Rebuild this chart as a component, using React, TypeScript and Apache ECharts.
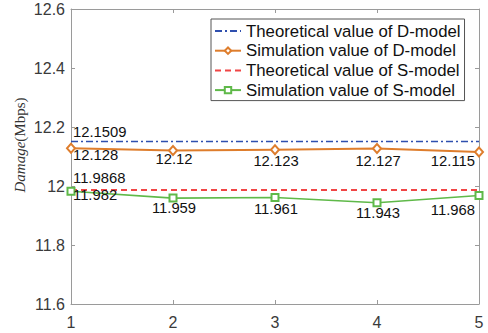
import React, { useEffect, useRef } from "react";
import * as echarts from "echarts";

// x positions
const categories = [1, 2, 3, 4, 5];
// theoretical values (constant over x)
const dTheory = 12.1509;
const sTheory = 11.9868;
// simulated values
const dSim = [12.128, 12.12, 12.123, 12.127, 12.115];
const sSim = [11.982, 11.959, 11.961, 11.943, 11.968];
// axis ticks
const yTicks = [11.6, 11.8, 12, 12.2, 12.4, 12.6];

const names = [
  "Theoretical value of D-model",
  "Simulation value of D-model",
  "Theoretical value of S-model",
  "Simulation value of S-model",
];

// vertical label offsets (pixels) from each simulated point
const dLabelDy = [7, 8.5, 11, 12.5, 8.5];
const sLabelDy = [3.5, 10, 11.5, 10.5, 15];

const FONT = "'Liberation Sans', Arial, sans-serif";
const SERIF = "'Liberation Serif', 'Times New Roman', serif";

const BLUE = "#2f4fae";
const ORANGE = "#de7d2c";
const RED = "#f04545";
const GREEN = "#5fb949";

function labelFor(i: number, dy: number, text?: string) {
  const n = categories.length;
  const align = i === 0 ? "left" : i === n - 1 ? "right" : "center";
  const dx = i === 0 ? 2 : i === n - 1 ? -4 : 1;
  const lbl: any = {
    show: true,
    position: "inside",
    align,
    verticalAlign: "middle",
    offset: [dx, dy],
    fontSize: 14.8,
    lineHeight: 12,
    fontFamily: FONT,
    color: "#111",
  };
  if (text !== undefined) lbl.formatter = () => text;
  return lbl;
}

export default function App() {
  const ref = useRef<HTMLDivElement>(null);

  useEffect(() => {
    if (!ref.current) return;
    const chart = echarts.init(ref.current, undefined, { renderer: "svg" });

    const simData = (vals: number[], dys: number[]) =>
      vals.map((v, i) => ({
        value: [categories[i], v],
        label: labelFor(i, dys[i]),
      }));

    // constant line; only the first point carries the value label
    const theoryData = (v: number, dy: number) =>
      categories.map((c, i) =>
        i === 0
          ? { value: [c, v], label: labelFor(0, dy, String(v)) }
          : { value: [c, v], label: { show: false } }
      );

    const axisGray = "#9a9a9a";
    const tickLabel = {
      fontSize: 16,
      fontFamily: FONT,
      color: "#3a3a3a",
    };
    const hiddenSymbol = { color: "rgba(0,0,0,0)", borderWidth: 0 };

    const boxAxis = {
      axisLine: { show: true, onZero: false, lineStyle: { color: axisGray, width: 1 } },
      axisTick: { show: true, inside: true, length: 4, lineStyle: { color: axisGray } },
      splitLine: { show: false },
    };

    chart.setOption({
      animation: false,
      backgroundColor: "#fff",
      grid: { left: 71, right: 9, top: 9, bottom: 29, containLabel: false },
      legend: {
        orient: "vertical",
        left: 211,
        top: 19,
        padding: [3.5, 4, 2, 3],
        itemWidth: 26,
        itemHeight: 8,
        itemGap: 2.7,
        borderColor: "#555",
        borderWidth: 1,
        backgroundColor: "#fff",
        textStyle: { fontSize: 16.8, fontFamily: FONT, color: "#111", lineHeight: 16.8 },
        data: [
          { name: names[0], itemStyle: { opacity: 0 } },
          { name: names[1] },
          { name: names[2], itemStyle: { opacity: 0 } },
          { name: names[3] },
        ],
      },
      graphic: [
        {
          type: "text",
          x: 20,
          y: 145,
          rotation: Math.PI / 2,
          style: {
            text: "{i|Damage}{n|(Mbps)}",
            align: "center",
            verticalAlign: "middle",
            rich: {
              i: { fontFamily: SERIF, fontStyle: "italic", fontSize: 15, fill: "#333" },
              n: { fontFamily: SERIF, fontSize: 15, fill: "#333" },
            },
          },
        },
      ],
      xAxis: [
        {
          type: "value",
          min: 1,
          max: 5,
          interval: 1,
          ...boxAxis,
          axisLabel: { ...tickLabel, margin: 10 },
        },
        {
          type: "value",
          position: "top",
          min: 1,
          max: 5,
          interval: 1,
          ...boxAxis,
          axisLabel: { show: false },
        },
      ],
      yAxis: [
        {
          type: "value",
          min: yTicks[0],
          max: yTicks[yTicks.length - 1],
          interval: 0.2,
          ...boxAxis,
          axisLabel: {
            ...tickLabel,
            margin: 6,
            formatter: (v: number) => String(parseFloat(v.toFixed(1))),
          },
        },
        {
          type: "value",
          position: "right",
          min: yTicks[0],
          max: yTicks[yTicks.length - 1],
          interval: 0.2,
          ...boxAxis,
          axisLabel: { show: false },
        },
      ],
      series: [
        {
          name: names[0],
          type: "line",
          data: theoryData(dTheory, -9.5),
          symbol: "circle",
          symbolSize: 1,
          showAllSymbol: true,
          itemStyle: hiddenSymbol,
          lineStyle: { color: BLUE, width: 1.6, type: [7, 3, 2, 3] },
          z: 3,
        },
        {
          name: names[1],
          type: "line",
          data: simData(dSim, dLabelDy),
          symbol: "emptyDiamond",
          symbolSize: [8, 9],
          itemStyle: { color: ORANGE, borderWidth: 1.5 },
          lineStyle: { color: ORANGE, width: 2 },
          z: 4,
        },
        {
          name: names[2],
          type: "line",
          data: theoryData(sTheory, -11.5),
          symbol: "circle",
          symbolSize: 1,
          showAllSymbol: true,
          itemStyle: hiddenSymbol,
          lineStyle: { color: RED, width: 2, type: [6, 4] },
          z: 3,
        },
        {
          name: names[3],
          type: "line",
          data: simData(sSim, sLabelDy),
          symbol: "emptyRect",
          symbolSize: 7,
          itemStyle: { color: GREEN, borderWidth: 1.3 },
          lineStyle: { color: GREEN, width: 1.6 },
          z: 4,
        },
      ],
    });

    return () => chart.dispose();
  }, []);

  return (
    <div
      ref={ref}
      style={{ position: "fixed", left: 0, top: 0, width: 488, height: 333 }}
    />
  );
}
